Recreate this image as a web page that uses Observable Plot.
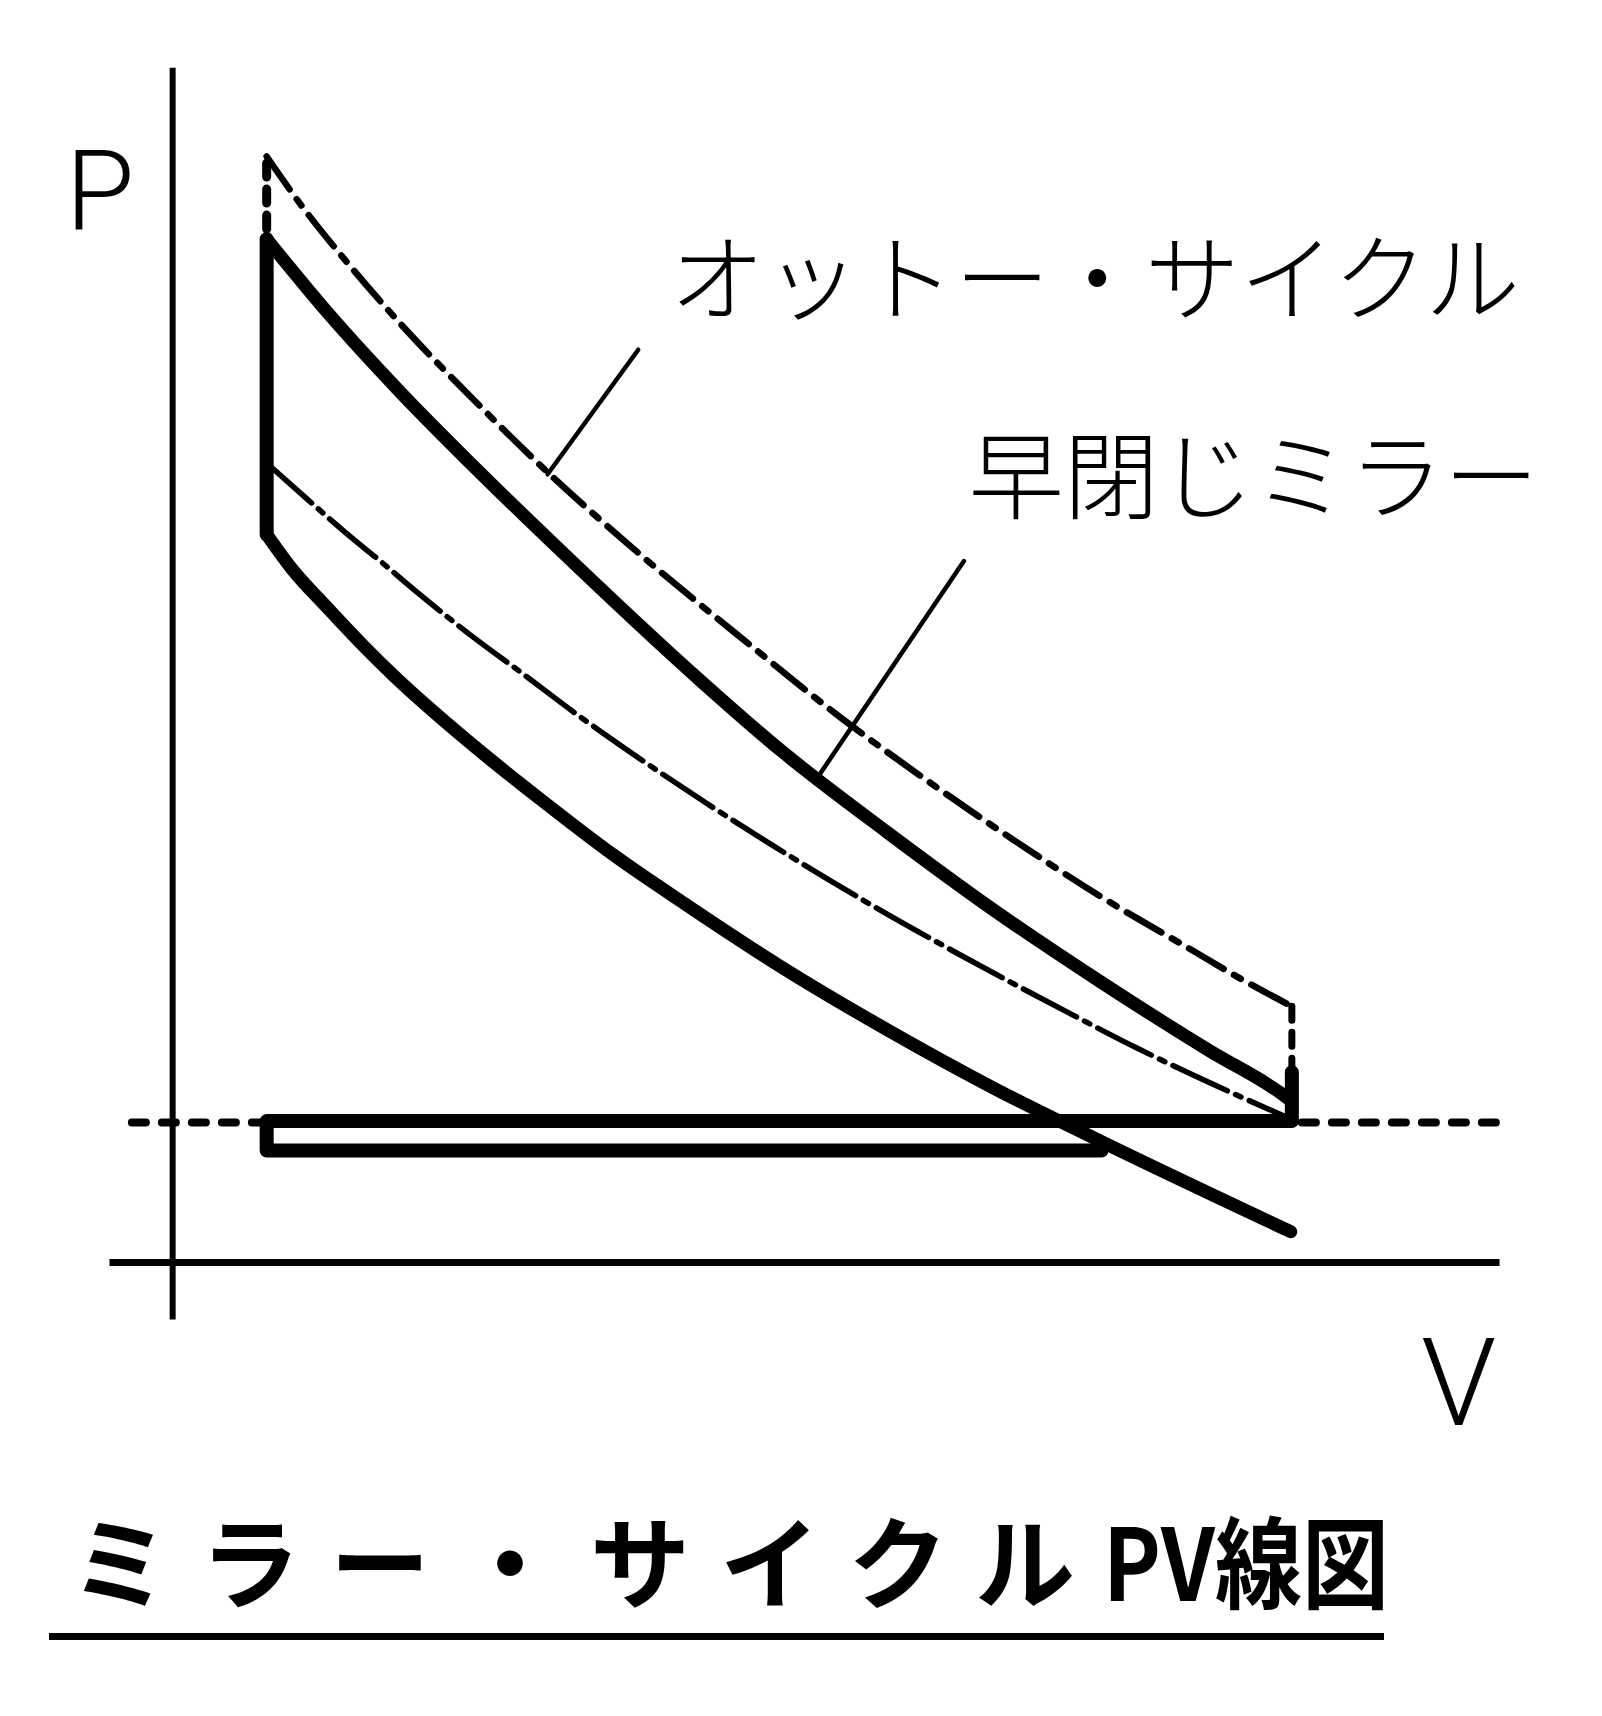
<!DOCTYPE html>
<html><head><meta charset="utf-8">
<script src="https://cdn.jsdelivr.net/npm/d3@7"></script>
<script src="https://cdn.jsdelivr.net/npm/@observablehq/plot@0.6"></script>
<style>
html,body{margin:0;padding:0;background:#fff;}
#wrap{position:relative;width:1602px;height:1716px;overflow:hidden;}
#chart{position:absolute;left:0;top:0;}
#title{position:absolute;left:70px;top:1508px;font-family:"Noto Sans CJK JP";font-weight:700;font-size:100px;line-height:100px;white-space:nowrap;color:#000;}
#title .kana{letter-spacing:30px;}
#title .tail{display:inline-block;transform:scaleX(0.87);transform-origin:left center;margin-left:-2px;}
#rule{position:absolute;left:49px;top:1633px;width:1335px;height:7px;background:#000;}
</style></head><body>
<div id="wrap"><div id="chart"></div>
<div id="title"><span class="kana">ミラー・サイクル</span><span class="tail">PV線図</span></div>
<div id="rule"></div></div>
<script>
// ---- data (V: volume, P: pressure; atmospheric P = 1) ----
const V_TDC = 0.84, V_BDC = 10.0, V_IVC = 8.3;
const P_ATM = 1.0, P_EXH = 1.01, P_INT = 0.80, P_BLOW_TOP = 1.36;

// Otto cycle (dash-dot)
const ottoCompV = [0.84, 1.22, 1.55, 1.87, 2.18, 2.73, 3.07, 3.62, 4.19, 4.77, 5.40, 6.23, 7.03, 7.99, 8.62, 9.58, 9.95];
const ottoCompP = [5.71, 5.44, 5.21, 5.00, 4.79, 4.44, 4.24, 3.91, 3.59, 3.28, 2.96, 2.56, 2.20, 1.79, 1.53, 1.17, 1.04];
const ottoExpV  = [0.84, 1.16, 1.51, 2.03, 2.73, 3.33, 4.10, 5.16, 5.94, 6.71, 7.51, 8.30, 9.11, 9.58, 10.0];
const ottoExpP  = [7.90, 7.54, 7.19, 6.71, 6.13, 5.66, 5.11, 4.41, 3.91, 3.46, 3.02, 2.61, 2.23, 2.01, 1.83];

// Early-closing Miller cycle (thick)
const millerExpV  = [0.84, 1.39, 2.03, 2.66, 3.46, 4.71, 5.43, 6.39, 7.35, 8.30, 9.27, 9.90, 10.0];
const millerExpP  = [7.31, 6.78, 6.22, 5.71, 5.09, 4.16, 3.66, 3.07, 2.51, 2.00, 1.51, 1.21, 1.15];
const millerCompV = [0.84, 1.06, 1.39, 1.71, 1.99, 2.66, 3.30, 3.94, 4.58, 5.42, 6.39, 7.35, 8.23, 9.99];
const millerCompP = [5.20, 4.96, 4.67, 4.40, 4.18, 3.71, 3.30, 2.91, 2.56, 2.12, 1.66, 1.24, 0.89, 0.22];

// axis extents
const axisV = [-0.56, 11.86], axisP = [-0.41, 8.53], atmV = [-0.36, 11.86];

// leader lines [from, to]
const ottoLeaderV = [4.16, 3.35], ottoLeaderP = [6.52, 5.63];
const millerLeaderV = [7.07, 5.75], millerLeaderP = [5.01, 3.45];

// labels
const labelText = ["オットー・サイクル", "早閉じミラー"];
const labelV = [8.24, 9.66];
const labelP = [6.99, 5.58];
const pLabel = {t: "P", V: -0.65, P: 7.64};
const vLabel = {t: "V", V: 11.49, P: -0.88};

// ---- build tables ----
const pts = (vs, ps) => vs.map((v, i) => ({V: v, P: ps[i]}));
const ottoComp = pts(ottoCompV, ottoCompP);
const ottoExp = pts(ottoExpV, ottoExpP);
const ottoComb = [{V: V_TDC, P: ottoCompP[0]}, {V: V_TDC, P: ottoExpP[0]}];
const ottoBlow = [{V: V_BDC, P: ottoExpP[ottoExpP.length - 1]}, {V: V_BDC, P: P_ATM}];
const millerExp = pts(millerExpV, millerExpP);
const millerComp = pts(millerCompV, millerCompP);
const millerComb = [{V: V_TDC, P: millerCompP[0]}, {V: V_TDC, P: millerExpP[0]}];
const millerPump = [
  {V: V_BDC, P: P_BLOW_TOP},
  {V: V_BDC, P: P_EXH},
  {V: V_TDC, P: P_EXH},
  {V: V_TDC, P: P_INT},
  {V: V_IVC, P: P_INT}
];
const leaders = [...pts(ottoLeaderV, ottoLeaderP).map(d => ({...d, g: "o"})), ...pts(millerLeaderV, millerLeaderP).map(d => ({...d, g: "m"}))];
const labels = labelText.map((t, i) => ({t, V: labelV[i], P: labelP[i]}));

const THICK = 13, THIN = 5.5;
const latin = "Roboto, 'Liberation Sans', sans-serif";

const chart = Plot.plot({
  width: 1602, height: 1460,
  marginLeft: 105, marginRight: 98, marginTop: 65, marginBottom: 135,
  x: {domain: [-0.6, 11.9], axis: null},
  y: {domain: [-0.45, 8.55], axis: null},
  style: {background: "white"},
  marks: [
    Plot.ruleX([0], {y1: axisP[0], y2: axisP[1], stroke: "black", strokeWidth: 6}),
    Plot.ruleY([0], {x1: axisV[0], x2: axisV[1], stroke: "black", strokeWidth: 7}),
    Plot.ruleY([P_ATM], {x1: atmV[0], x2: atmV[1], stroke: "black", strokeWidth: 8, strokeDasharray: "14,16", strokeLinecap: "round"}),
    // Otto
    Plot.line(ottoComp, {x: "V", y: "P", curve: "monotone-x", stroke: "black", strokeWidth: THIN, strokeDasharray: "60,9,6,9"}),
    Plot.line(ottoExp, {x: "V", y: "P", curve: "monotone-x", stroke: "black", strokeWidth: THIN + 1, strokeDasharray: "40,12,8,12"}),
    Plot.line(ottoComb, {x: "V", y: "P", stroke: "black", strokeWidth: 9, strokeDasharray: "14,12", strokeLinecap: "round"}),
    Plot.line(ottoBlow, {x: "V", y: "P", stroke: "black", strokeWidth: 7, strokeDasharray: "14,12", strokeLinecap: "round"}),
    // Miller
    Plot.line(millerExp, {x: "V", y: "P", curve: "monotone-x", stroke: "black", strokeWidth: THICK, strokeLinecap: "round"}),
    Plot.line(millerComp, {x: "V", y: "P", curve: "monotone-x", stroke: "black", strokeWidth: THICK, strokeLinecap: "round"}),
    Plot.line(millerComb, {x: "V", y: "P", stroke: "black", strokeWidth: THICK + 1, strokeLinecap: "round"}),
    Plot.line(millerPump, {x: "V", y: "P", stroke: "black", strokeWidth: THICK + 1, strokeLinejoin: "round", strokeLinecap: "round"}),
    // leaders
    Plot.line(leaders, {x: "V", y: "P", z: "g", stroke: "black", strokeWidth: 4.5, strokeLinecap: "round"}),
    // labels
    Plot.text(labels, {x: "V", y: "P", text: "t", fontSize: 95, fontFamily: "Noto Sans CJK JP", fontWeight: 300, textAnchor: "middle", lineAnchor: "middle", fill: "black"}),
    Plot.text([pLabel], {x: "V", y: "P", text: "t", fontSize: 112, fontFamily: latin, fontWeight: 300, textAnchor: "middle", lineAnchor: "middle", fill: "black"}),
    Plot.text([vLabel], {x: "V", y: "P", text: "t", fontSize: 122, fontFamily: latin, fontWeight: 300, textAnchor: "middle", lineAnchor: "middle", fill: "black"})
  ]
});
document.getElementById("chart").appendChild(chart);
</script>
</body></html>
